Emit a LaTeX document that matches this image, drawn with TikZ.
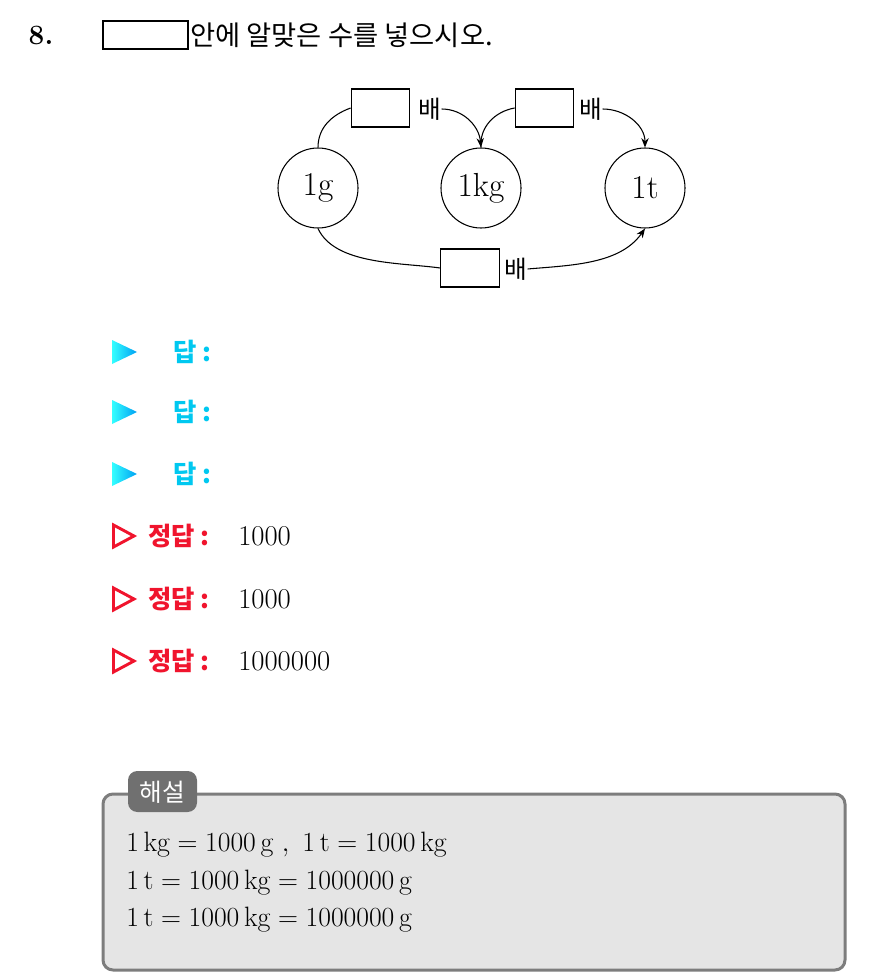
\documentclass[tikz,border=0pt]{standalone}
\usepackage{fontspec}
\usepackage{amsmath}
\usetikzlibrary{arrows.meta}
\newfontfamily\kr{Noto Sans CJK KR}
\definecolor{ansblue}{RGB}{0,200,240}
\definecolor{ansred}{RGB}{240,20,45}
\definecolor{boxgray}{RGB}{229,229,229}
\definecolor{rimgray}{RGB}{125,125,125}
\definecolor{tabgray}{RGB}{112,112,112}

\begin{document}
\begin{tikzpicture}[x=0.75pt,y=-0.75pt,>={Stealth[length=7pt,width=5.5pt]},
    unit/.style={draw,circle,line width=0.8pt,minimum size=60pt,inner sep=0pt,font=\fontsize{25}{29}\selectfont},
    blank/.style={draw,line width=0.8pt,minimum width=44pt,minimum height=28.5pt,inner sep=0pt},
    times/.style={inner sep=0pt,font=\kr\fontsize{18.5}{22}\selectfont},
    link/.style={line width=0.8pt}]
        \useasboundingbox (0,0) rectangle (884,974);
        % question
        \node[font=\fontsize{21}{25}\selectfont\bfseries] (num) at (41,35) {8.};
        \node[blank,minimum width=63.75pt,minimum height=21pt] (qbox) at (145.5,35) {};
        \node[anchor=west,inner sep=0pt,font=\kr\fontsize{20.5}{24}\selectfont] (qtext) at (190,35) {안에 알맞은 수를 넣으시오.};
        % units
        \node[unit] (g) at (318,188) {1g};
        \node[unit] (kg) at (481,188) {1kg};
        \node[unit] (t) at (645,188) {1t};
        % blanks
        \node[blank] (b1) at (380.5,108) {};
        \node[times] (x1) at (430,109) {배};
        \node[blank] (b2) at (544.5,108) {};
        \node[times] (x2) at (591,109) {배};
        \node[blank] (b3) at (470,268) {};
        \node[times] (x3) at (516,269) {배};
        % arrows
        \draw[link] (g.north) to[out=90,in=200] (b1.west);
        \draw[link,->] (x1.east) to[out=0,in=95] (kg.north);
        \draw[link] (kg.north) to[out=95,in=190] (b2.west);
        \draw[link,->] (x2.east) to[out=0,in=90] (t.north);
        \draw[link] (g.south) to[out=-65,in=172,looseness=0.8] (b3.west);
        \draw[link,->] (x3.east) to[out=5,in=-125,looseness=0.9] (t.south);
        % answers
        \foreach \i/\y in {1/352,2/412,3/474}{
            \shade[left color=cyan!80!white,right color=ansblue!80!blue] (112,\y-12) -- (137,\y) -- (112,\y+12) -- cycle;
            \node[anchor=west,inner sep=0pt,text=ansblue,font=\kr\bfseries\fontsize{19}{23}\selectfont] (ans\i) at (173,\y) {답 :};
        }
        \foreach \i/\y/\v in {1/536/1000,2/599/1000,3/661/1000000}{
            \draw[ansred,line width=2.2pt,line join=miter] (113.5,\y-11) -- (134,\y) -- (113.5,\y+11) -- cycle;
            \node[anchor=west,inner sep=0pt,text=ansred,font=\kr\bfseries\fontsize{19}{23}\selectfont] (sol\i) at (148,\y) {정답 :};
            \node[anchor=west,inner sep=0pt,font=\fontsize{21.5}{25}\selectfont] (val\i) at (238,\y) {\v};
        }
        % solution
        \draw[rimgray,fill=boxgray,line width=2.25pt,rounded corners=7.5pt] (103,794) rectangle (845,970);
        \fill[tabgray,rounded corners=7pt] (128,771) rectangle (197,812);
        \node[text=white,font=\kr\fontsize{18.5}{22}\selectfont] (tab) at (162.5,792) {해설};
        \node[anchor=base west,inner sep=0pt,font=\fontsize{21}{25}\selectfont] (line1) at (126,851) {$1\,\mathrm{kg}=1000\,\mathrm{g}\ ,\ 1\,\mathrm{t}=1000\,\mathrm{kg}$};
        \node[anchor=base west,inner sep=0pt,font=\fontsize{21}{25}\selectfont] (line2) at (126,889) {$1\,\mathrm{t}=1000\,\mathrm{kg}=1000000\,\mathrm{g}$};
        \node[anchor=base west,inner sep=0pt,font=\fontsize{21}{25}\selectfont] (line3) at (126,926) {$1\,\mathrm{t}=1000\,\mathrm{kg}=1000000\,\mathrm{g}$};
\end{tikzpicture}
\end{document}
